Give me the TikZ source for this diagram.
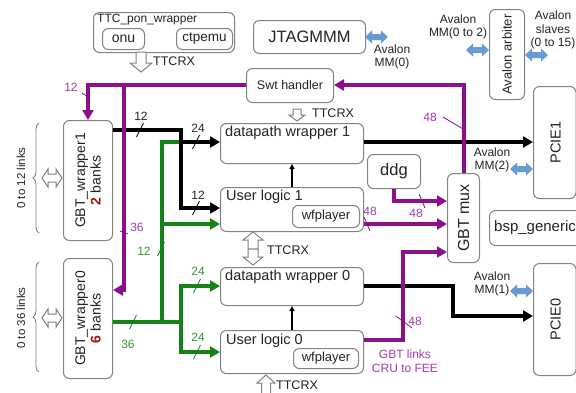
\documentclass[tikz,border=0pt]{standalone}
\usepackage{fontspec}
\setmainfont{Liberation Sans}
\usetikzlibrary{arrows.meta,decorations.pathreplacing,calc}
\definecolor{pur}{RGB}{140,15,140}
\definecolor{purtxt}{RGB}{160,60,175}
\definecolor{grn}{RGB}{20,130,20}
\definecolor{grntxt}{RGB}{55,150,55}
\definecolor{bordr}{RGB}{130,130,130}
\definecolor{avblue}{RGB}{105,155,210}
\definecolor{dred}{RGB}{160,20,20}
\definecolor{txt}{RGB}{35,35,35}
\newcommand{\myfz}[2]{\fontsize{#1}{#2}\selectfont}
\tikzset{
  box/.style={draw=bordr, line width=1pt, rounded corners=6pt, anchor=north west, inner sep=0pt, fill=white},
  tl/.style={anchor=north west, inner sep=0pt, text=txt, font=\myfz{14.5}{16}},
  ct/.style={inner sep=0pt, text=txt},
  lab/.style={inner sep=0pt, text=txt, font=\myfz{12}{13.5}, align=center},
  blk/.style={line width=4pt, black},
  blka/.style={line width=4pt, black, -{Triangle[length=10pt,width=11pt]}},
  grnl/.style={line width=4pt, grn},
  grna/.style={line width=4pt, grn, -{Triangle[length=10pt,width=11pt]}},
  purl/.style={line width=4pt, pur},
  pura/.style={line width=4pt, pur, -{Triangle[length=10pt,width=11pt]}},
  hollow/.style={draw=bordr, line width=1pt, fill=white},
  thinarr/.style={line width=1.8pt, black, -{Triangle[length=5pt,width=5pt]}}
}
\newcommand{\mkbox}[5]{\node[box, minimum width=#4pt, minimum height=#5pt] (#1) at (#2,#3) {};}
\newcommand{\tickslash}[3]{\draw[#3, line width=0.8pt] ({#1-3.5},{#2+7}) -- ({#1+3.5},{#2-7});}
\newcommand{\tickback}[3]{\draw[#3, line width=0.8pt] ({#1-3},{#2-7}) -- ({#1+3},{#2+7});}
\newcommand{\bluearr}[3]{\fill[avblue] (#1,#3) -- ({#1+7},{#3-6.5}) -- ({#1+7},{#3-3}) -- ({#2-7},{#3-3}) -- ({#2-7},{#3-6.5}) -- (#2,#3) -- ({#2-7},{#3+6.5}) -- ({#2-7},{#3+3}) -- ({#1+7},{#3+3}) -- ({#1+7},{#3+6.5}) -- cycle;}
\newcommand{\hdarr}[3]{\draw[hollow] (#1,#3) -- ({#1+6},{#3-9}) -- ({#1+6},{#3-4}) -- ({#2-6},{#3-4}) -- ({#2-6},{#3-9}) -- (#2,#3) -- ({#2-6},{#3+9}) -- ({#2-6},{#3+4}) -- ({#1+6},{#3+4}) -- ({#1+6},{#3+9}) -- cycle;}
% vertical hollow arrow: x, ytail, ytip, shaft half, head half, head length
\newcommand{\vharr}[6]{\draw[hollow] ({#1-#4},#2) -- ({#1+#4},#2) -- ({#1+#4},{#3-(#6)*sign(#3-#2)}) -- ({#1+#5},{#3-(#6)*sign(#3-#2)}) -- (#1,#3) -- ({#1-#5},{#3-(#6)*sign(#3-#2)}) -- ({#1-#4},{#3-(#6)*sign(#3-#2)}) -- cycle;}
\begin{document}
\begin{tikzpicture}[x=1pt,y=-1pt]
\useasboundingbox (0,0) rectangle (576,392);
\fill[white] (0,0) rectangle (576,392);

% ---------- boxes ----------
\mkbox{ttc}{93}{12}{141}{40}
\mkbox{onu}{102}{28}{42}{21}
\mkbox{ctp}{176}{28}{56}{21}
\mkbox{jtag}{253}{20}{112}{33}
\mkbox{swt}{246}{68}{87}{34}
\mkbox{arb}{489}{9}{35}{90}
\mkbox{pcie1}{533}{86}{42.5}{112}
\mkbox{dpw1}{220}{123}{143}{40}
\mkbox{ddg}{367}{154}{53}{34}
\mkbox{ul1}{220}{187}{143}{44}
\mkbox{wf1}{292}{205}{67}{22}
\mkbox{mux}{447}{173}{32}{89}
\mkbox{bsp}{489}{210}{110}{35}
\mkbox{dpw0}{220}{267}{143}{38}
\mkbox{ul0}{220}{330}{143}{43}
\mkbox{wf0}{293}{348}{65}{20}
\mkbox{pcie0}{533}{263}{42.5}{112}
\mkbox{gbtw1}{63}{120}{49}{120}
\mkbox{gbtw0}{63}{258}{49}{120}

% ---------- box texts ----------
\node[tl, font=\myfz{12}{13}] (ttct) at (97,14) {TTC\_pon\_wrapper};
\node[ct, font=\myfz{14}{15}] (onut) at (onu.center) {onu};
\node[ct, font=\myfz{13.5}{15}] (ctpt) at (ctp.center) {ctpemu};
\node[ct, font=\myfz{16.5}{18}] (jtagt) at (jtag.center) {JTAGMMM};
\node[ct, font=\myfz{12.5}{14}] (swtt) at (swt.center) {Swt handler};
\node[ct, font=\myfz{13}{14}, rotate=90] (arbt) at (arb.center) {Avalon arbiter};
\node[ct, font=\myfz{14.5}{16}, rotate=90] (pcie1t) at ($(pcie1.center)+(1,0)$) {PCIE1};
\node[ct, font=\myfz{14.5}{16}, rotate=90] (pcie0t) at ($(pcie0.center)+(1,0)$) {PCIE0};
\node[tl] (dpw1t) at (225,126) {datapath wrapper 1};
\node[tl] (ul1t) at (226,190) {User logic 1};
\node[tl] (dpw0t) at (225,270) {datapath wrapper 0};
\node[tl] (ul0t) at (226,334) {User logic 0};
\node[ct, font=\myfz{13}{14}] (wf1t) at (wf1.center) {wfplayer};
\node[ct, font=\myfz{13}{14}] (wf0t) at (wf0.center) {wfplayer};
\node[ct, font=\myfz{16.5}{18}] (ddgt) at (ddg.center) {ddg};
\node[ct, font=\myfz{16}{18}, rotate=90] (muxt) at (mux.center) {GBT mux};
\node[ct, font=\myfz{15}{17}, anchor=west] (bspt) at (494,228) {bsp\_generic};
\node[ct, font=\myfz{14}{15.5}, rotate=90, align=center] (gbtw1t) at (gbtw1.center) {GBT\_wrapper1\\{\color{dred}\bfseries 2} banks};
\node[ct, font=\myfz{14}{15.5}, rotate=90, align=center] (gbtw0t) at (gbtw0.center) {GBT\_wrapper0\\{\color{dred}\bfseries 6} banks};

% ---------- braces and link labels ----------
\draw[decorate, decoration={brace, amplitude=6pt}, bordr, line width=0.9pt] (39,233) -- (39,123);
\draw[decorate, decoration={brace, amplitude=6pt}, bordr, line width=0.9pt] (39,372) -- (39,262);
\node[ct, font=\myfz{11.5}{13}, rotate=90] (l12) at (21,178) {0 to 12 links};
\node[ct, font=\myfz{11.5}{13}, rotate=90] (l36) at (21,318) {0 to 36 links};
\hdarr{42}{62}{178}
\hdarr{42}{62}{318}

% ---------- hollow TTCRX arrows ----------
\vharr{141}{52}{72}{5}{11}{9}
\node[lab, anchor=west, font=\myfz{12.5}{14}] (ttcrx1) at (153,61) {TTCRX};
\vharr{297}{109}{121}{4}{8}{6}
\node[lab, anchor=west, font=\myfz{12.5}{14}] (ttcrx2) at (312,113) {TTCRX};
\vharr{253}{249}{232}{5}{10}{8}
\vharr{253}{249}{265}{5}{10}{8}
\node[lab, anchor=west, font=\myfz{12.5}{14}] (ttcrx3) at (267,250) {TTCRX};
\vharr{266}{396}{375}{4.5}{9}{8}
\node[lab, anchor=west, font=\myfz{12.5}{14}] (ttcrx4) at (276,385) {TTCRX};

% ---------- Avalon ----------
\bluearr{365}{388}{37}
\node[lab] (av0) at (392,57) {Avalon\\MM(0)};
\node[lab] (av02) at (458,27) {Avalon\\MM(0 to 2)};
\bluearr{466}{489}{50}
\bluearr{525}{548}{55}
\node[lab] (avs) at (553,30) {Avalon\\slaves\\(0 to 15)};
\node[lab] (av2) at (492,160) {Avalon\\MM(2)};
\bluearr{510}{533}{169}
\node[lab] (av1) at (492,284) {Avalon\\MM(1)};
\bluearr{510}{533}{291}

% ---------- thin black arrows ----------
\draw[thinarr] (ul1.north -| 292,0) -- (dpw1.south -| 292,0);
\draw[thinarr] (ul0.north -| 292,0) -- (dpw0.south -| 292,0);

% ---------- green ----------
\draw[grnl] (181,142) -- (162,142) -- (162,322);
\draw[grna] (162,224) -- (ul1.west |- 0,224);
\draw[grnl] (gbtw0.east |- 0,322) -- (181,322);
\draw[grna] (181,322) -- (181,286) -- (dpw0.west |- 0,286);
\draw[grna] (181,322) -- (181,352) -- (ul0.west |- 0,352);
\tickslash{133}{322}{grn}
\tickslash{161}{249}{grn}
\tickslash{197}{286}{grn}
\tickslash{197}{352}{grn}
\node[lab, text=grntxt] (g36) at (128,344) {36};
\node[lab, text=grntxt] (g12) at (144,251) {12};
\node[lab, text=grntxt] (g24a) at (198,271) {24};
\node[lab, text=grntxt] (g24b) at (198,337) {24};

% ---------- black ----------
\draw[blka] (gbtw1.east |- 0,130) -- (181,130) -- (181,208) -- (ul1.west |- 0,208);
\draw[blka] (181,142) -- (dpw1.west |- 0,142);
\draw[blka] (dpw1.east |- 0,142) -- (pcie1.west |- 0,142);
\draw[blka] (dpw0.east |- 0,286) -- (453,286) -- (453,316) -- (pcie0.west |- 0,316);
\tickslash{140}{130}{black}
\tickslash{196}{142}{black}
\tickslash{196}{208}{black}
\node[lab] (b12a) at (141,116) {12};
\node[lab] (b24) at (198,128) {24};
\node[lab] (b12b) at (198,195) {12};

% ---------- purple ----------
\draw[pura] (mux.north) -- (mux.north |- 0,85) -- (swt.east |- 0,85);
\draw[pura] (swt.west |- 0,85) -- (gbtw1.north |- 0,85) -- (gbtw1.north);
\draw[pura] (124,85) -- (124,290) -- (gbtw0.east |- 0,290);
\draw[pura] (ddg.south -| 394,0) -- (394,201) -- (mux.west |- 0,201);
\draw[pura] (ul1.east |- 0,224) -- (mux.west |- 0,224);
\draw[pura] (ul0.east |- 0,340) -- (403,340) -- (403,252) -- (mux.west |- 0,252);
\draw[pur, line width=0.8pt] (443,117) -- (463,129);
\draw[pur, line width=0.8pt] (82,93) -- (88,97);
\draw[pur, line width=0.8pt] (120,231) -- (128,234);
\tickback{422}{201}{pur}
\tickback{367}{224}{pur}
\draw[pur, line width=0.8pt] (396,316) -- (412,328);
\node[lab, text=purtxt] (p12) at (71,87) {12};
\node[lab, text=purtxt] (p36) at (137,227) {36};
\node[lab, text=purtxt] (p48a) at (430,117) {48};
\node[lab, text=purtxt] (p48b) at (416,213) {48};
\node[lab, text=purtxt] (p48c) at (370,211) {48};
\node[lab, text=purtxt] (p48d) at (415,321) {48};
\node[lab, text=purtxt] (gbtl) at (405,361) {GBT links\\CRU to FEE};
\end{tikzpicture}
\end{document}
